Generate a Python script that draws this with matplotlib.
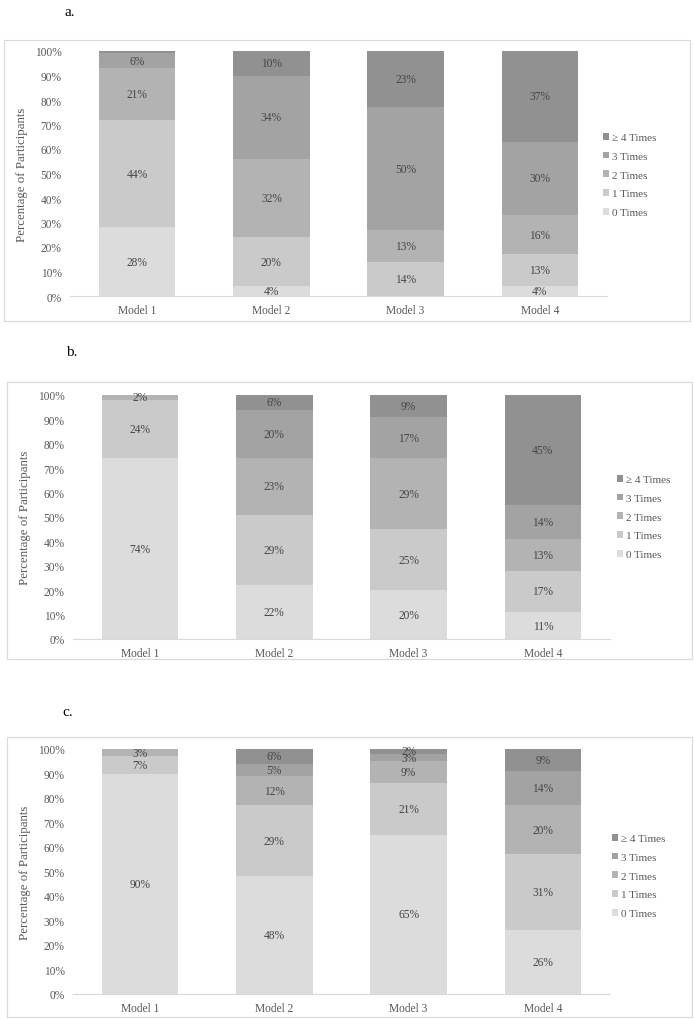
import matplotlib
matplotlib.use("Agg")
import matplotlib.pyplot as plt
from matplotlib.patches import Rectangle
import numpy as np

plt.rcParams['font.family'] = ['Liberation Serif', 'DejaVu Serif']

categories = ['Model 1', 'Model 2', 'Model 3', 'Model 4']
series_names = ['0 Times', '1 Times', '2 Times', '3 Times', '\u2265 4 Times']
colors = ['#dcdcdc', '#cacaca', '#b3b3b3', '#a3a3a3', '#919191']

# panel a
a_zero = [28, 4, 0, 4]
a_one = [44, 20, 14, 13]
a_two = [21, 32, 13, 16]
a_three = [6, 34, 50, 30]
a_four = [1, 10, 23, 37]

# panel b
b_zero = [74, 22, 20, 11]
b_one = [24, 29, 25, 17]
b_two = [2, 23, 29, 13]
b_three = [0, 20, 17, 14]
b_four = [0, 6, 9, 45]

# panel c
c_zero = [90, 48, 65, 26]
c_one = [7, 29, 21, 31]
c_two = [3, 12, 9, 20]
c_three = [0, 5, 3, 14]
c_four = [0, 6, 2, 9]

W, H = 694, 1020
fig = plt.figure(figsize=(W / 100, H / 100), dpi=100)

txt_gray = '#595959'


def px_axes(x0, x1, ytop, ybot):
    return [x0 / W, 1 - ybot / H, (x1 - x0) / W, (ybot - ytop) / H]


def draw_panel(rect, box, letter, letter_xy, leg_xy, data):
    # light border around the chart
    bx0, by0, bx1, by1 = box
    fig.patches.append(Rectangle((bx0 / W, 1 - by1 / H), (bx1 - bx0) / W, (by1 - by0) / H,
                                 transform=fig.transFigure, fill=False,
                                 edgecolor='#d9d9d9', lw=0.8))
    fig.text(letter_xy[0] / W, 1 - letter_xy[1] / H, letter, fontsize=11,
             ha='center', va='center', color='black')

    ax = fig.add_axes(px_axes(*rect))
    x = np.arange(len(categories))
    bottom = np.zeros(len(categories))
    handles = []
    for vals, name, col in zip(data, series_names, colors):
        vals = np.array(vals, dtype=float)
        b = ax.bar(x, vals, 0.57, bottom=bottom, color=col, label=name)
        handles.append(b)
        for xi, v, bt in zip(x, vals, bottom):
            if v >= 2:
                ax.text(xi, bt + v / 2, '%d%%' % v, ha='center', va='center',
                        fontsize=8.3, color='#454545')
        bottom += vals

    ax.set_xlim(-0.5, 3.5)
    ax.set_ylim(0, 100)
    ax.set_yticks(range(0, 101, 10))
    ax.set_yticklabels(['%d%%' % t for t in range(0, 101, 10)])
    ax.set_xticks(x)
    ax.set_xticklabels(categories)
    ax.tick_params(length=0, labelsize=8.3, colors=txt_gray)
    ax.tick_params(axis='y', pad=6)
    ax.tick_params(axis='x', pad=6)
    for s in ['top', 'right', 'left']:
        ax.spines[s].set_visible(False)
    ax.spines['bottom'].set_color('#d9d9d9')
    ax.set_ylabel('Percentage of Participants', fontsize=9.3, color=txt_gray)
    ax.yaxis.set_label_coords(-0.078, 0.5)

    leg = ax.legend(handles[::-1], series_names[::-1], loc='upper left',
                    bbox_to_anchor=(leg_xy[0] / W, 1 - leg_xy[1] / H),
                    bbox_transform=fig.transFigure, frameon=False,
                    fontsize=8, handlelength=0.55, handleheight=0.55,
                    handletextpad=0.25, labelspacing=0.85, borderaxespad=0,
                    borderpad=0)
    for t in leg.get_texts():
        t.set_color(txt_gray)
    return ax


draw_panel((70, 607, 52, 297), (4, 41, 690, 322), 'a.', (70, 13), (603, 134),
           [a_zero, a_one, a_two, a_three, a_four])
draw_panel((73, 610, 396, 640), (7, 383, 692, 660), 'b.', (72, 353), (617, 476),
           [b_zero, b_one, b_two, b_three, b_four])
draw_panel((73, 610, 750, 995), (7, 738, 692, 1018), 'c.', (68, 713), (612, 835),
           [c_zero, c_one, c_two, c_three, c_four])

fig.savefig('out.png', dpi=100)
